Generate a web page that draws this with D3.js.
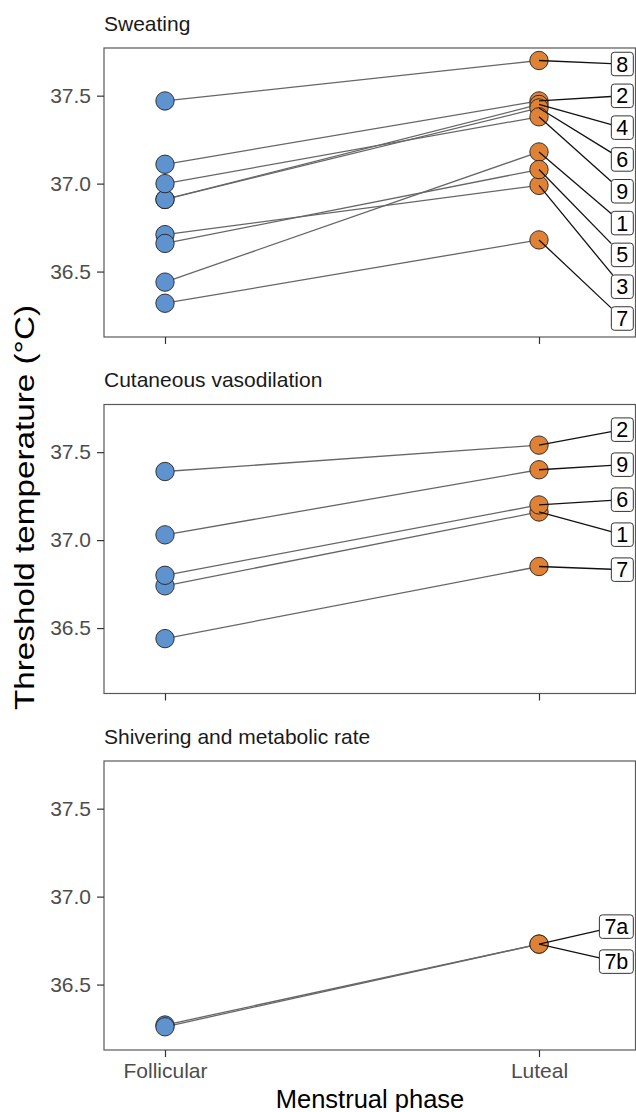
<!DOCTYPE html>
<html><head><meta charset="utf-8">
<script src="https://cdn.jsdelivr.net/npm/d3@7"></script>
<style>
body{margin:0;background:#fff}
svg{display:block}
text{font-family:"Liberation Sans",Arial,Helvetica,sans-serif}
</style>
</head><body><svg id="chart" width="636" height="1112"></svg>
<script>
// ---------------- data ----------------
const phases = ["Follicular", "Luteal"];
const panelTitles = ["Sweating", "Cutaneous vasodilation", "Shivering and metabolic rate"];
const yTicks = [36.5, 37.0, 37.5];

// Sweating
const sweatSubjects  = ["1", "2", "3", "4", "5", "6", "7", "8", "9"];
const sweatFollicular = [36.44, 37.11, 36.71, 36.91, 36.66, 36.91, 36.32, 37.47, 37.00];
const sweatLuteal     = [37.18, 37.47, 36.99, 37.45, 37.08, 37.43, 36.68, 37.70, 37.38];

// Cutaneous vasodilation
const vasoSubjects  = ["1", "2", "6", "7", "9"];
const vasoFollicular = [36.74, 37.39, 36.80, 36.44, 37.03];
const vasoLuteal     = [37.16, 37.54, 37.20, 36.85, 37.40];

// Shivering and metabolic rate
const shivSubjects  = ["7a", "7b"];
const shivFollicular = [36.27, 36.26];
const shivLuteal     = [36.73, 36.73];

const yDomain = [36.128, 37.771];

// ---------------- layout ----------------
const left = 104, right = 635.5;
const panelTop0 = 48, panelH = 289, panelStep = 356.5;
const follColor = "#5f93cf", lutColor = "#e08236";

const panels = [
  {title: panelTitles[0], subj: sweatSubjects, f: sweatFollicular, l: sweatLuteal},
  {title: panelTitles[1], subj: vasoSubjects, f: vasoFollicular, l: vasoLuteal},
  {title: panelTitles[2], subj: shivSubjects, f: shivFollicular, l: shivLuteal}
];

const svg = d3.select("#chart");
const x = d3.scalePoint().domain(phases).range([165, 539]);

function repel(ys, lo, hi, maxGap) {
  const n = ys.length;
  const order = d3.range(n).sort((a, b) => ys[a] - ys[b]);
  const gap = n > 1 ? Math.min(maxGap, (hi - lo) / (n - 1)) : 0;
  const v = order.map((k, i) => ys[k] - i * gap);
  const blocks = [];
  v.forEach(val => {
    blocks.push({sum: val, cnt: 1});
    while (blocks.length > 1) {
      const b = blocks[blocks.length - 1], a = blocks[blocks.length - 2];
      if (a.sum / a.cnt > b.sum / b.cnt) {
        a.sum += b.sum; a.cnt += b.cnt; blocks.pop();
      } else break;
    }
  });
  const fit = [];
  blocks.forEach(b => { for (let j = 0; j < b.cnt; j++) fit.push(b.sum / b.cnt); });
  let pos = fit.map((f, i) => f + i * gap);
  if (pos[0] < lo) { const s = lo - pos[0]; pos = pos.map(p => p + s); }
  if (pos[n - 1] > hi) { const s = pos[n - 1] - hi; pos = pos.map(p => p - s); }
  const out = new Array(n);
  order.forEach((k, i) => out[k] = pos[i]);
  return out;
}

panels.forEach((p, pi) => {
  const top = panelTop0 + pi * panelStep;
  const bottom = top + panelH;
  const y = d3.scaleLinear().domain(yDomain).range([bottom, top]);
  const g = svg.append("g");

  // strip title
  g.append("text").attr("x", left).attr("y", top - 17.5)
    .attr("font-size", 21).attr("fill", "#1a1a1a").text(p.title);

  // panel border
  g.append("rect").attr("x", left).attr("y", top)
    .attr("width", right - left).attr("height", panelH)
    .attr("fill", "none").attr("stroke", "#595959").attr("stroke-width", 1.2);

  // y axis
  const ya = g.append("g").attr("transform", `translate(${left},0)`)
    .call(d3.axisLeft(y).tickValues(yTicks).tickFormat(d3.format(".1f")).tickSize(7).tickPadding(6));
  ya.select(".domain").remove();
  ya.selectAll(".tick line").attr("stroke", "#333").attr("stroke-width", 1.2);
  ya.selectAll(".tick text").attr("font-size", 21).attr("fill", "#4d4d4d")
    .attr("font-family", "'Liberation Sans',Arial,sans-serif");

  // x axis
  const xa = g.append("g").attr("transform", `translate(0,${bottom})`)
    .call(d3.axisBottom(x).tickSize(7).tickPadding(6));
  xa.select(".domain").remove();
  xa.selectAll(".tick line").attr("stroke", "#333").attr("stroke-width", 1.2);
  xa.selectAll(".tick text").attr("font-size", 21).attr("fill", "#4d4d4d")
    .attr("font-family", "'Liberation Sans',Arial,sans-serif")
    .style("display", pi === 2 ? null : "none");

  const data = p.subj.map((s, i) => ({s, f: p.f[i], l: p.l[i]}));

  // connecting lines
  g.selectAll("line.conn").data(data).enter().append("line")
    .attr("x1", x(phases[0])).attr("y1", d => y(d.f))
    .attr("x2", x(phases[1])).attr("y2", d => y(d.l))
    .attr("stroke", "#666").attr("stroke-width", 1.3);

  // points
  g.selectAll("circle.f").data(data).enter().append("circle")
    .attr("cx", x(phases[0])).attr("cy", d => y(d.f)).attr("r", 9.2)
    .attr("fill", follColor).attr("stroke", "#222").attr("stroke-width", 0.9);
  g.selectAll("circle.l").data(data).enter().append("circle")
    .attr("cx", x(phases[1])).attr("cy", d => y(d.l)).attr("r", 9.2)
    .attr("fill", lutColor).attr("stroke", "#222").attr("stroke-width", 0.9);

  // labels (repelled)
  const labY = repel(data.map(d => y(d.l)), top + 16, bottom - 18.5, 35);
  const boxRight = 633.3, boxH = 23.5;
  const labG = g.append("g");
  const segG = labG.append("g");
  const boxG = labG.append("g");
  data.forEach((d, i) => {
    const t = boxG.append("text").attr("font-size", 21.5).attr("fill", "#000")
      .attr("text-anchor", "middle").attr("dominant-baseline", "central").text(d.s);
    const tw = t.node().getComputedTextLength();
    const bw = tw + 10;
    const cx = boxRight - bw / 2, cy = labY[i];
    t.attr("x", cx).attr("y", cy + 0.5);
    boxG.insert("rect", () => t.node())
      .attr("x", cx - bw / 2).attr("y", cy - boxH / 2)
      .attr("width", bw).attr("height", boxH).attr("rx", 3)
      .attr("fill", "#fff").attr("stroke", "#333").attr("stroke-width", 1);
    const px = x(phases[1]), py = y(d.l);
    const dx = cx - px, dy = cy - py;
    const s = Math.max(Math.abs(dx) / (bw / 2), Math.abs(dy) / (boxH / 2));
    const ex = cx - dx / s, ey = cy - dy / s;
    segG.append("line").attr("x1", px).attr("y1", py).attr("x2", ex).attr("y2", ey)
      .attr("stroke", "#111").attr("stroke-width", 1.3);
  });
});

// axis titles
svg.append("text").attr("x", 370).attr("y", 1108).attr("text-anchor", "middle")
  .attr("font-size", 25.5).attr("fill", "#000").text("Menstrual phase");
svg.append("text").attr("transform", "translate(25,507.5) rotate(-90)")
  .attr("text-anchor", "middle").attr("dominant-baseline", "central")
  .attr("font-size", 27).attr("fill", "#000")
  .attr("textLength", 405).attr("lengthAdjust", "spacingAndGlyphs")
  .text("Threshold temperature (°C)");
</script>
</body></html>
